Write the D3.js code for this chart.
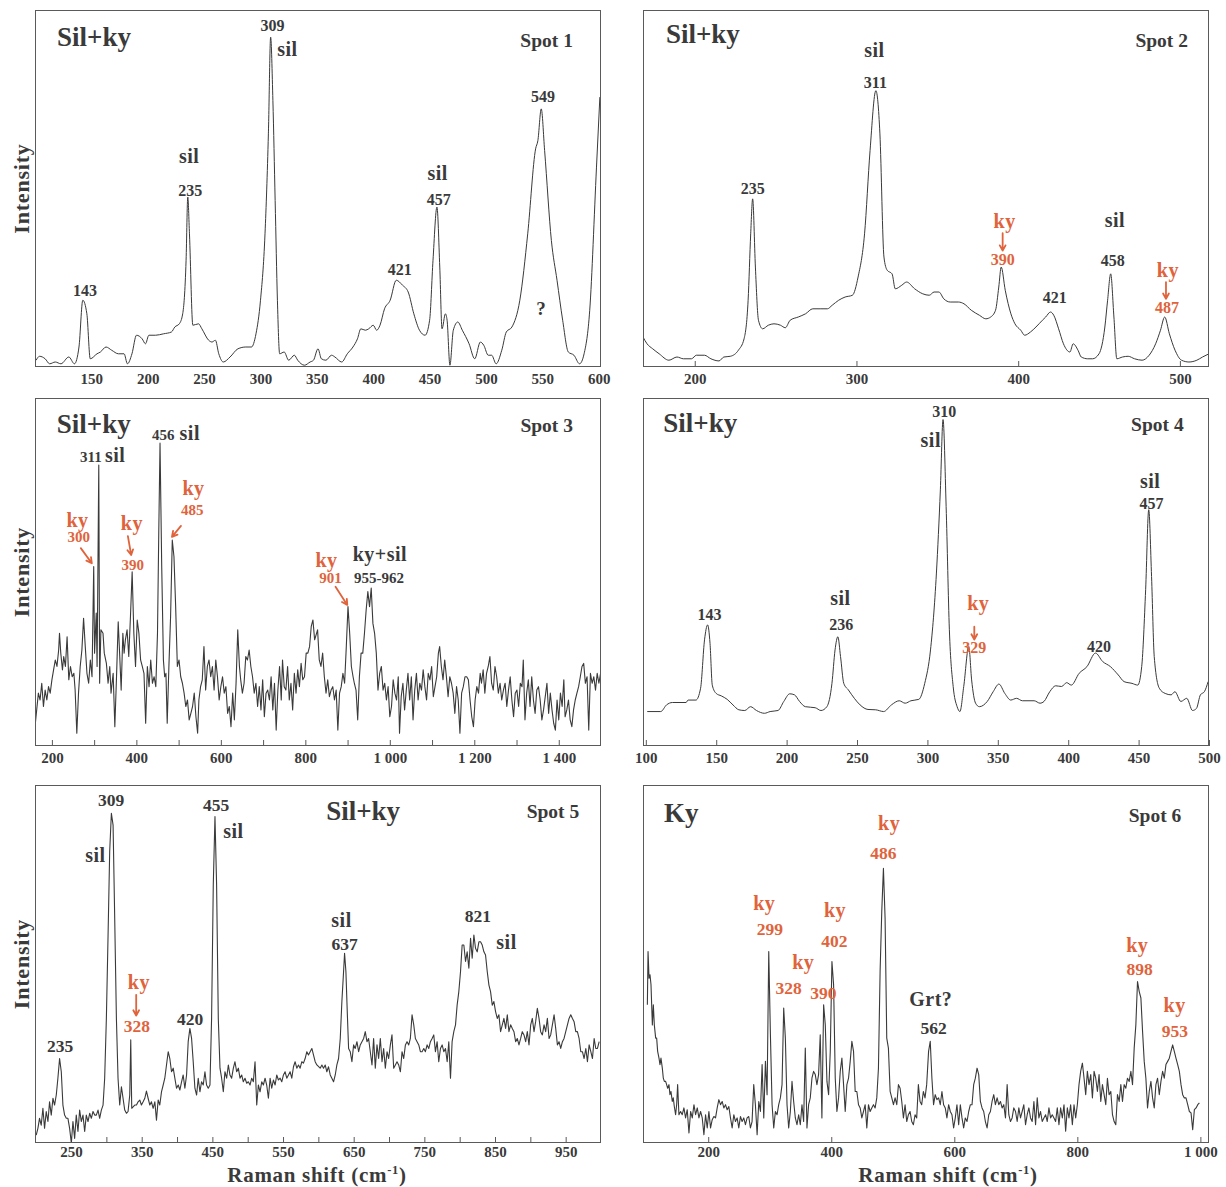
<!DOCTYPE html>
<html><head><meta charset="utf-8">
<script src="https://cdn.jsdelivr.net/npm/d3@7"></script>
<style>
body{margin:0;background:#fff;}
svg text{font-family:"Liberation Serif","Times New Roman",serif;font-weight:bold;}
</style></head><body>
<svg id="c" width="1226" height="1187"></svg>
<script>
// ---------------- DATA (Raman shift cm-1, relative intensity %) ----------------
const spot1 = [[101,1.9],[104,3.0],[109,2.3],[113,0.9],[118,1.4],[123,0.9],[130,2.8],[135,0.9],[139,5.6],[142.4,18.7],[146,14.9],[149,2.3],[155,3.7],[158,4.2],[163,5.6],[168,4.7],[174,3.7],[179,3.7],[182,0.9],[186,3.7],[190,8.9],[195,7.9],[198,6.5],[201,8.9],[207,8.9],[214,9.3],[221,9.8],[224,11.2],[228,12.1],[231,14.9],[234,29.9],[235.5,47.6],[237,37.3],[240,11.7],[245,12.1],[248,10.7],[254,7.5],[257,7.0],[260,7.5],[263,3.7],[267,1.4],[273,2.8],[280,5.1],[287,5.6],[292,5.6],[296,9.3],[300,18.7],[304,37.3],[307,65.3],[309,92.4],[311,74.6],[313,46.6],[315,18.7],[317,3.7],[321,4.2],[325,1.9],[330,3.3],[333,1.9],[339,0.5],[344,1.4],[347,1.9],[351,5.1],[354,2.3],[358,1.9],[363,3.3],[366,2.8],[372,1.4],[377,3.7],[382,5.6],[386,7.9],[389,10.7],[393,10.3],[396,10.7],[400,11.7],[403,10.3],[406,11.7],[410,16.3],[415,18.7],[420.4,24.3],[426,22.9],[431,21.0],[436,14.9],[441,10.3],[446,8.9],[450,13.1],[453,29.9],[456.5,44.8],[459,28.0],[461,10.7],[464,14.9],[465.5,13.1],[468,0.5],[471,10.3],[475,12.6],[479,10.3],[485,6.5],[490,2.3],[495,7.0],[498,6.1],[502,3.3],[505,3.3],[509,0.9],[514,4.7],[518,9.8],[523,11.2],[530,18.7],[537,37.3],[544,61.1],[546,63.4],[549,72.3],[552,60.6],[558,35.4],[563,24.3],[568,13.1],[573,4.2],[578,3.3],[583,0.9],[587,3.7],[592,15.9],[598,56.0],[601,75.6]];

const spot2 = [[168,8.4],[170.5,6.5],[174,5.1],[178,3.7],[184,1.9],[189,2.8],[193,2.3],[198,2.3],[201,3.3],[206,3.3],[210,2.3],[215,1.7],[218,2.8],[222,3.0],[227,4.7],[230.5,7.9],[233,18.7],[234.6,37.3],[235.8,47.1],[237.5,28.0],[239.4,13.1],[242,10.7],[245.5,11.7],[249,12.1],[253,11.7],[256,11.0],[259,13.1],[264,14.0],[268.5,14.9],[273,16.3],[278,16.3],[282,16.3],[285,17.3],[289,18.7],[293,19.6],[297.5,20.1],[301,25.2],[305,37.3],[308.4,60.6],[312,77.4],[314.5,65.3],[317,30.8],[319,27.1],[322,26.1],[324,21.9],[328,22.9],[331,23.8],[336,21.9],[341,20.5],[345,20.1],[348,21.0],[351,21.0],[354,19.1],[358,18.2],[363,18.2],[366.5,17.7],[371,15.9],[376,14.5],[380,13.5],[383,14.0],[386,15.9],[388,22.4],[389.5,28.0],[392,21.5],[395.5,14.9],[398,12.1],[401.6,10.3],[404,8.9],[407.6,9.8],[411,11.2],[415,13.1],[417,14.0],[420,15.4],[422,14.5],[425,10.7],[428,6.5],[432,4.2],[434,6.5],[437,4.7],[439,2.8],[443,2.3],[446,2.3],[450,3.7],[453.6,11.2],[455.3,18.7],[457.2,26.1],[459.2,14.0],[461,2.3],[464.5,2.8],[468,3.0],[472,2.3],[476.6,1.9],[481,3.3],[485,6.5],[488,10.3],[490.6,14.0],[493.5,9.3],[497,4.7],[501,1.9],[505.6,1.4],[510.5,1.9],[514,2.8],[518,3.7]];

const spot3 = [[160,3.9],[164,8.8],[168,13.7],[172,11.7],[176,16.6],[180,9.8],[184,14.6],[188,11.7],[192,15.6],[196,13.7],[200,17.6],[204,20.5],[208,23.4],[212,21.5],[216,26.3],[218,31.2],[221,25.4],[225,20.5],[228,24.4],[232,21.5],[236,30.2],[240,17.6],[244,21.5],[248,18.5],[252,19.5],[255,14.6],[259,2.0],[263,13.7],[267,21.5],[271,26.3],[275,35.6],[279,27.3],[283,19.5],[287,16.6],[291,23.4],[295,18.5],[299,50.7],[301,25.4],[305,37.1],[307,21.5],[311,80.4],[313,16.6],[316,32.2],[321,31.2],[324,25.4],[329,22.4],[333,16.6],[337,21.5],[340,13.7],[345,19.5],[349,3.9],[353,18.5],[357,34.6],[361,23.4],[364,14.6],[368,31.2],[371,25.4],[374,29.3],[378,32.2],[382,24.4],[386,36.1],[390,49.2],[394,31.2],[398,21.5],[402,35.1],[406,31.2],[410,23.4],[414,21.5],[418,19.5],[422,4.9],[426,21.5],[430,15.6],[434,23.4],[438,16.6],[442,18.5],[446,15.6],[450,31.2],[453,60.5],[456,86.8],[460,50.7],[464,23.4],[467,18.5],[470,19.5],[473,4.9],[477,21.5],[481,36.1],[485,58.5],[489,53.6],[493,39],[497,21.5],[501,23.4],[505,18.5],[509,16.6],[513,13.7],[517,9.8],[521,11.7],[525,5.9],[529,7.8],[533,9.8],[537,13.7],[541,6.8],[545,2.0],[548,11.7],[552,15.6],[556,17.6],[560,27.3],[564,14.6],[568,21.5],[572,23.4],[576,18.5],[580,21.5],[584,14.6],[588,23.4],[592,18.5],[596,11.7],[600,15.6],[604,18.5],[608,13.7],[612,15.6],[616,7.8],[620,9.8],[624,3.9],[628,13.7],[632,5.9],[636,16.6],[640,32.2],[644,21.5],[647,17.6],[651,13.7],[655,16.6],[659,24.4],[663,23.4],[667,26.3],[671,21.5],[675,18.5],[679,13.7],[683,16.6],[687,9.8],[691,15.6],[695,8.8],[699,17.6],[703,6.8],[707,13.7],[711,14.6],[715,11.7],[719,18.5],[723,8.8],[727,16.6],[731,2.9],[735,14.6],[739,21.5],[743,11.7],[746,23.4],[750,15.6],[754,14.6],[758,21.5],[762,11.7],[766,16.6],[770,8.8],[774,19.5],[778,13.7],[782,20.5],[786,15.6],[790,22.4],[794,17.6],[798,18.5],[802,25.4],[806,25.4],[810,27.3],[814,33.2],[818,35.1],[822,29.3],[829,32.2],[833,23.4],[837,21.5],[841,25.4],[845,18.5],[849,13.7],[853,17.6],[857,12.7],[861,14.6],[865,15.6],[869,11.7],[873,14.6],[877,2.9],[881,13.7],[885,15.6],[889,19.5],[893,16.6],[897,27.3],[901,39],[905,31.2],[909,21.5],[913,18.5],[916,16.6],[920,14.6],[924,5.9],[928,18.5],[932,25.4],[936,25.4],[940,31.2],[944,38],[948,43.4],[952,39],[956,44.4],[960,34.1],[964,31.2],[968,25.4],[972,14.6],[976,19.5],[980,21.5],[984,14.6],[988,16.6],[992,11.7],[996,15.6],[1000,6.8],[1004,9.8],[1008,17.6],[1012,13.7],[1016,11.7],[1020,18.5],[1023,2.0],[1027,12.7],[1031,16.6],[1035,8.8],[1039,14.6],[1043,19.5],[1047,11.7],[1051,18.5],[1055,5.9],[1059,14.6],[1063,19.5],[1067,11.7],[1071,16.6],[1075,14.6],[1079,20.5],[1083,15.6],[1087,11.7],[1091,19.5],[1095,17.6],[1099,21.5],[1103,12.7],[1107,15.6],[1111,18.5],[1115,25.4],[1118,27.3],[1122,21.5],[1126,17.6],[1130,23.4],[1134,18.5],[1138,12.7],[1142,18.5],[1146,16.6],[1150,13.7],[1154,7.8],[1158,15.6],[1162,11.7],[1166,2.0],[1170,13.7],[1174,15.6],[1178,18.5],[1182,18.5],[1186,17.6],[1190,11.7],[1194,6.8],[1198,3.9],[1202,11.7],[1206,15.6],[1210,13.7],[1214,19.5],[1217,16.6],[1221,20.5],[1225,13.7],[1229,19.5],[1233,21.5],[1237,24.4],[1241,16.6],[1245,14.6],[1249,21.5],[1253,18.5],[1257,13.7],[1261,16.6],[1265,11.7],[1269,14.6],[1273,16.6],[1277,9.8],[1281,14.6],[1285,18.5],[1289,11.7],[1293,6.8],[1297,13.7],[1301,14.6],[1305,9.8],[1309,16.6],[1313,15.6],[1316,23.4],[1320,5.9],[1324,13.7],[1328,17.6],[1332,9.8],[1336,18.5],[1340,11.7],[1344,7.8],[1348,14.6],[1352,15.6],[1356,11.7],[1360,5.9],[1364,8.8],[1368,12.7],[1372,16.6],[1376,7.8],[1380,13.7],[1384,8.8],[1388,4.9],[1392,2.9],[1396,11.7],[1400,5.9],[1404,13.7],[1408,9.8],[1412,17.6],[1415,6.8],[1419,8.8],[1423,11.7],[1427,5.9],[1431,3.9],[1435,8.8],[1439,11.7],[1443,13.7],[1447,15.6],[1451,18.5],[1455,21.5],[1459,22.4],[1463,16.6],[1467,18.5],[1471,2.9],[1475,19.5],[1479,16.6],[1483,18.5],[1487,14.6],[1491,19.5],[1495,16.6],[1499,19.5]];

const spot4 = [[101,9.9],[110.6,9.9],[114.7,11.8],[118.9,12.5],[128.6,12.5],[130,13.2],[135.6,13.2],[138.9,16.6],[141.7,30.5],[143.9,34.8],[145.6,29.5],[147.2,17.5],[150,15.1],[153.6,14.4],[157.8,13.4],[161.9,11.8],[166.1,10.4],[170.3,10.2],[174.4,11.3],[178.6,10.2],[184.2,9.4],[188.3,9.9],[193.9,10.2],[198,12.8],[202.2,15],[205.6,14.7],[209.2,12.8],[213.3,11.3],[220.3,11],[224.4,10.2],[228.6,11.3],[232.2,18],[234.4,27.6],[236.4,31.4],[238.3,25.7],[240.6,18],[243.9,16.1],[248.1,13.7],[252.2,11.8],[257.8,10.5],[263.3,10.4],[268.9,9.9],[274.4,11.8],[280,13],[284.2,12.3],[288.3,13],[293.9,13.4],[298.1,18],[302.2,27.6],[306.4,49.7],[309.2,73.6],[311.1,93.8],[313.3,68.8],[315.6,33.4],[318.3,17.1],[321.1,11.3],[323.1,9.9],[325.8,17.1],[329.4,28.6],[331.4,19],[334.2,12.3],[336.9,11.3],[342.5,12.8],[346.7,15.6],[350.8,17.8],[355,15.1],[359.2,13.2],[363.3,13.7],[367.5,13],[375.8,13],[380,12.3],[382.8,12.8],[386.9,15.6],[391.1,17.3],[395.3,17.1],[398.9,18.2],[402.2,17.5],[407.8,20.9],[413.3,22.8],[419.4,26.7],[424.4,24.3],[430,22.8],[435.6,20.4],[439.7,18.5],[445.3,18],[449.4,17.5],[452.2,22.8],[455,44.9],[457.2,67.9],[459.2,48.7],[461.1,25.7],[464.7,16.6],[468.9,15.1],[473.1,14.7],[475.8,15.6],[480,12.8],[484.2,13.7],[488.3,10.2],[491.1,10.8],[493.9,14.7],[496.7,15.6],[499.4,18.5]];

const spot5 = [[200.7,2.2],[203.1,4.1],[205.4,6.9],[207.8,5.0],[210.2,9.7],[212.5,4.1],[214.9,8.8],[217.3,6.0],[219.6,11.5],[222,7.8],[224.4,12.5],[226.7,10.6],[229.1,13.4],[231.4,18.1],[233.8,23.6],[236.2,19.9],[238.5,10.6],[240.9,7.8],[243.3,6.9],[245.6,6.9],[248,4.1],[250.4,0],[252.7,6.0],[255.1,1.3],[257.4,7.8],[259.8,3.2],[262.2,9.2],[264.5,6.0],[266.9,7.8],[269.3,3.2],[271.6,7.8],[274,6.0],[276.4,8.3],[278.7,6.9],[281.1,8.8],[283.5,7.8],[285.8,7.8],[288.2,9.2],[290.5,6.9],[292.9,9.2],[295.3,10.6],[297.6,18.1],[300,34.8],[302.4,58.1],[304.7,81.4],[307.1,92.1],[309.5,88.8],[311.8,62.8],[314.2,34.8],[316.5,18.1],[318.9,10.6],[321.3,15.7],[323.6,12.5],[326,9.2],[328.4,8.3],[330.7,8.8],[333.1,13.4],[334.5,28.8],[335.9,9.7],[337.8,10.1],[340.2,10.6],[342.6,10.6],[344.9,11.5],[347.3,12],[349.6,10.6],[352,11.5],[354.4,12.5],[356.7,14.5],[359.1,12.5],[361.5,10.6],[363.8,11.5],[366.2,9.7],[368.6,11.5],[370.9,6.4],[373.3,12],[375.6,10.6],[378,14.3],[380.4,16.2],[382.7,18.1],[385.1,21.8],[387.5,25.5],[389.8,23.6],[392.2,19.9],[394.6,20.9],[396.9,18.1],[399.3,15.3],[401.7,16.2],[404,14.8],[406.4,17.1],[408.7,19],[411.1,15.3],[413.5,19],[415.8,28.3],[418.2,32],[420.6,29.2],[422.9,22.7],[425.3,15.3],[427.7,13.4],[430,18.1],[432.4,14.3],[434.7,17.1],[437.1,16.2],[439.5,19.9],[441.8,16.2],[444.2,15.3],[446.6,16.2],[448.9,34.8],[451.3,72.1],[453.7,91.2],[456,72.1],[458.4,34.8],[460.8,20.9],[463.1,18.1],[465.5,14.3],[467.8,19.9],[470.2,18.1],[472.6,21.8],[474.9,19],[477.3,18.1],[479.7,20.9],[482,22.7],[484.4,19.9],[486.8,20.9],[489.1,18.1],[491.5,19],[493.8,17.1],[496.2,18.1],[498.6,16.7],[500.9,17.1],[503.3,16.2],[505.7,18.1],[508,17.1],[510.4,22.7],[512.8,10.6],[515.1,16.2],[517.5,14.3],[519.9,17.1],[522.2,16.2],[524.6,18.1],[526.9,16.2],[529.3,12.5],[531.7,18.1],[534,15.3],[536.4,17.6],[538.8,16.2],[541.1,19],[543.5,17.6],[545.9,18.1],[548.2,17.1],[550.6,19],[552.9,19.9],[555.3,18.1],[557.7,19],[560,19.9],[562.4,18.1],[564.8,21.3],[567.1,22.7],[569.5,20.9],[571.9,21.8],[574.2,20.9],[576.6,22.7],[578.9,22.3],[581.3,23.6],[583.7,25.5],[586,24.6],[588.4,25.5],[590.8,26.4],[593.1,24.6],[595.5,22.7],[597.9,21.8],[602.6,20.9],[605,21.8],[607.3,20.9],[609.7,21.8],[612,19.9],[614.4,21.3],[616.8,19],[619.1,18.1],[621.5,17.1],[623.9,19],[626.2,21.8],[628.6,23.6],[631,29.2],[633.3,39.5],[635.7,47.9],[637.1,53],[639,47.9],[640.9,36.7],[642.8,26.4],[645.1,25.5],[647.5,22.7],[649.9,27.4],[652.2,26.4],[654.6,28.3],[657,25.5],[659.3,27.4],[661.7,28.3],[664.1,29.2],[666.4,31.1],[668.8,28.3],[671.1,29.2],[673.5,25.5],[675.9,21.8],[678.2,29.2],[680.6,20.9],[683,27.4],[685.3,23.6],[687.7,29.2],[690.1,22.7],[692.4,26.4],[694.8,20.9],[697.2,25.5],[699.5,23.6],[701.9,27.4],[704.2,30.2],[706.6,20.9],[709,21.8],[711.3,22.7],[713.7,21.8],[716.1,19.9],[718.4,25.5],[720.8,23.6],[723.2,27.4],[725.5,28.3],[727.9,27.4],[730.2,29.2],[732.6,35.8],[735,33],[737.3,29.2],[739.7,28.3],[742.1,27.4],[744.4,25.5],[746.8,25.5],[749.2,26.4],[751.5,25.5],[753.9,27.4],[756.3,26.4],[758.6,28.3],[761,29.2],[763.3,30.2],[765.7,25.5],[768.1,28.3],[770.4,22.7],[772.8,26.4],[775.2,27.4],[777.5,25.5],[779.9,26.4],[782.3,22.7],[784.6,28.3],[787,18.1],[789.3,28.3],[791.7,31.1],[794.1,33],[796.4,38.5],[798.8,42.3],[801.2,47.9],[803.5,55.3],[805.9,55.3],[808.3,50.7],[810.6,53.4],[813,48.8],[815.4,57.2],[817.7,51.6],[820.1,58.1],[822.4,54.4],[824.8,53.4],[827.2,56.2],[829.5,56.2],[831.9,55.3],[834.3,53.4],[836.6,52.5],[839,47.9],[841.4,44.1],[843.7,42.3],[846.1,38.5],[848.4,39.5],[850.8,36.7],[853.2,34.8],[855.5,35.8],[857.9,31.1],[860.3,33],[862.6,34.8],[865,32],[867.4,35.8],[869.7,31.1],[872.1,33],[874.5,32],[876.8,31.1],[879.2,28.3],[881.5,29.2],[883.9,27.4],[886.3,29.2],[888.6,31.1],[891,30.2],[893.4,28.3],[895.7,31.1],[898.1,27.4],[900.5,33],[902.8,34.8],[905.2,31.1],[907.5,33.9],[909.9,37.6],[912.3,34.8],[914.6,31.1],[917,30.2],[919.4,33],[921.7,31.1],[924.1,34.8],[926.5,29.2],[928.8,30.2],[931.2,33],[933.6,35.8],[935.9,32],[938.3,27.4],[940.6,28.3],[943,26.4],[945.4,28.3],[947.7,29.2],[950.1,31.1],[952.5,33],[954.8,34.8],[957.2,35.8],[959.6,34.8],[961.9,33.9],[964.3,31.1],[966.6,31.1],[969,29.2],[971.4,25.5],[973.7,25.5],[976.1,23.6],[978.5,26.4],[980.8,22.7],[983.2,27.4],[985.6,25.5],[987.9,23.6],[990.3,29.2],[992.6,26.4],[995,26.4],[997.4,28.3]];

const spot6 = [[101.1,38.6],[102.2,53.5],[103.8,46],[105.4,47],[107,44.2],[109.2,33],[110.8,38.6],[112.4,33],[114.6,29.3],[116.2,29.3],[117.8,25.6],[120,23.7],[121.6,21.9],[123.2,23.7],[125.4,20.9],[127,18.1],[128.7,17.2],[130.8,17.2],[132.4,16.3],[134.1,15.3],[136.2,16.3],[137.8,13.5],[139.5,14.4],[141.6,11.6],[143.2,12.6],[144.9,10.2],[147,7.9],[148.7,10.7],[150.3,16.3],[152.4,7.9],[155.1,8.8],[157.8,7.9],[160.5,9.8],[163.2,7],[165.9,9.3],[168.7,2.8],[171.4,8.8],[174.1,7],[176.8,10.7],[179.5,7.9],[182.2,9.8],[184.9,7],[187.6,8.8],[190.3,7],[193,2.3],[195.7,7.9],[198.4,4.2],[201.1,8.8],[203.8,4.2],[206.5,6.5],[209.2,7.4],[211.9,7],[214.6,9.8],[217.3,12.1],[220,10.7],[222.7,11.6],[225.4,9.8],[228.1,10.7],[230.8,9.3],[233.5,10.2],[236.2,7],[238.9,4.2],[241.6,7.9],[244.3,6],[247,7],[249.7,4.2],[252.4,7.4],[255.1,6],[257.8,7],[260.5,5.1],[263.2,7],[265.9,7.4],[268.6,4.2],[271.3,6],[274,16.3],[276.7,10.7],[279.5,2.3],[282.2,11.6],[284.9,8.8],[287.6,21.9],[290.3,7],[293,22.8],[295.7,13.5],[298.4,53.5],[301.1,30.2],[303.8,10.7],[306.5,4.2],[309.2,8.8],[311.9,7.9],[314.6,10.7],[317.3,12.6],[320,16.3],[322.7,37.7],[325.4,29.3],[328.1,10.7],[330.8,4.2],[333.5,8.8],[336.2,17.2],[338.9,11.6],[341.6,7],[344.3,5.1],[347,7.9],[349.7,5.1],[352.4,10.7],[355.1,6],[357.8,26.5],[360.5,4.2],[363.2,10.7],[365.9,12.6],[368.6,18.1],[371.3,20],[374,19.1],[376.7,16.3],[379.4,19.1],[382.1,30.2],[384.8,7],[387.6,38.6],[390.3,33],[393,17.2],[395.7,13.5],[398.4,25.6],[401.1,50.7],[403.8,44.2],[406.5,18.1],[409.2,8.8],[411.9,12.6],[414.6,20],[417.3,23.7],[420,16.3],[422.7,8.8],[425.4,16.3],[428.1,18.1],[430.8,22.8],[433.5,28.4],[436.2,25.6],[438.9,14.4],[441.6,14.4],[444.3,10.7],[447,9.8],[449.7,7],[452.4,8.8],[455.1,10.7],[457.8,4.2],[460.5,10.7],[463.2,8.8],[465.9,9.8],[468.6,10.7],[471.3,9.8],[474,12.6],[476.7,20.9],[479.4,47.9],[482.1,64.7],[484.8,76.7],[487.5,62.8],[490.2,29.3],[492.9,26.5],[495.7,14.4],[498.4,12.6],[501.1,10.7],[503.8,12.6],[506.5,10.7],[509.2,16.3],[511.9,15.3],[514.6,11.6],[517.3,7],[520,10.7],[522.7,6],[525.4,7.9],[528.1,8.8],[530.8,6],[533.5,5.1],[536.2,7.9],[538.9,7],[541.6,16.3],[544.3,11.6],[547,10.7],[549.7,14.4],[552.4,12.6],[555.1,16.3],[558.2,25.6],[560.9,28.4],[563.6,18.1],[566.3,10.7],[569,13.5],[571.7,12.1],[574.5,12.6],[577.2,10.7],[579.9,14.4],[582.6,10.7],[585.3,9.8],[588,7],[590.8,10.7],[593.5,8.8],[596.2,7.9],[598.9,4.2],[601.6,7],[604.3,10.7],[607.1,5.1],[609.8,10.7],[612.5,7],[615.2,4.2],[617.9,7],[620.7,6],[623.4,8.8],[626.1,10.7],[628.8,10.7],[631.5,16.3],[634.2,18.1],[637,20.9],[639.7,19.1],[642.4,11.6],[645.1,9.8],[647.8,8.8],[650.5,6],[653.3,4.2],[656,7.9],[658.7,8.8],[661.4,11.6],[664.1,13.5],[666.8,10.7],[669.6,12.6],[672.3,10.7],[675,11.6],[677.7,9.8],[680.4,10.7],[683.2,7],[685.9,16.3],[688.6,7.9],[691.3,6],[694,7],[696.7,9.8],[699.5,8.8],[702.2,6],[704.9,9.8],[707.6,7],[710.3,8.8],[713,10.7],[715.8,5.1],[718.5,7.9],[721.2,9.8],[723.9,7],[726.6,6],[729.4,11.6],[732.1,5.1],[734.8,12.6],[737.5,7],[740.2,8.8],[742.9,6],[745.7,7],[748.4,7.9],[751.1,6],[753.8,9.8],[756.5,7],[759.2,7.9],[762,7],[764.7,6],[767.4,9.8],[770.1,5.1],[772.8,9.8],[775.6,7],[778.3,10.7],[781,3.3],[783.7,9.8],[786.4,7],[789.1,10.7],[791.9,5.1],[794.6,10.7],[797.3,7],[800,10.7],[802.7,16.3],[805.4,20],[808.2,22.3],[810.9,18.1],[813.6,13.5],[816.3,20],[819,16.3],[821.8,19.1],[824.5,12.6],[827.2,20],[829.9,18.1],[832.6,14.4],[835.3,19.1],[838.1,11.6],[840.8,16.3],[843.5,13.5],[846.2,10.7],[848.9,18.1],[851.6,13.5],[854.4,14.4],[857.1,7.9],[859.8,6],[862.5,5.1],[865.2,13.5],[868,11.6],[870.7,16.3],[873.4,11.6],[876.1,16.3],[878.8,15.3],[881.5,18.1],[884.3,17.2],[887,20],[889.7,16.3],[892.4,26.5],[895.1,33],[897.8,45.1],[900.6,42.3],[903.3,40.5],[906,31.2],[908.7,22.8],[911.4,18.1],[914.1,9.8],[916.9,14.4],[919.6,17.2],[922.3,12.6],[925,9.8],[927.7,16.3],[930.4,18.1],[933.2,13.5],[935.9,17.2],[938.6,20],[941.3,18.1],[944,21.9],[946.8,22.8],[949.5,23.7],[952.2,25.6],[954.9,27.4],[957.6,25.6],[960.3,23.7],[963.1,21.9],[965.8,20],[968.5,16.3],[971.2,13.5],[973.9,12.6],[976.6,12.6],[979.4,10.7],[982.1,8.8],[984.8,8.4],[987.5,3.7],[990.2,9.3],[993,9.8],[995.7,10.7],[998.4,11.2]];

// tick values and labels
const ticks1 = [150,200,250,300,350,400,450,500,550,600];
const tickText1 = ["150","200","250","300","350","400","450","500","550","600"];
const ticks2 = [200,300,400,500];
const tickText2 = ["200","300","400","500"];
const ticks3 = [200,300,400,500,600,700,800,900,1000,1100,1200,1300,1400];
const tickText3 = ["200","","400","","600","","800","","1 000","","1 200","","1 400"];
const ticks4 = [100,150,200,250,300,350,400,450,500];
const tickText4 = ["100","150","200","250","300","350","400","450","500"];
const ticks5 = [250,300,350,400,450,500,550,600,650,700,750,800,850,900,950];
const tickText5 = ["250","","350","","450","","550","","650","","750","","850","","950"];
const ticks6 = [200,400,600,800,1000];
const tickText6 = ["200","400","600","800","1 000"];

// annotations: [text, shift, intensity, kind]
const notes1 = [["Sil+ky",119.5,89.9,"title"],["Spot 1",577.1,89.6,"spot"],["309",310.6,94.1,"num"],["sil",323.9,87.1,"min"],["sil",236.8,57.1,"min"],["235",237.7,47.9,"num"],["143",144.4,19.9,"num"],["421",423.4,25.8,"num"],["sil",457.2,52.4,"min"],["457",458.1,45.4,"num"],["549",550.5,74.2,"num"],["?",548.7,14.6,"q"]];
const notes2 = [["Sil+ky",182.2,90.8,"title"],["Spot 2",505,89.6,"spot"],["sil",311.1,86.8,"min"],["311",311.7,78.2,"num"],["235",235.8,48.5,"num"],["ky",391.6,38.9,"ky"],["390",390.4,28.6,"kyn"],["421",422.6,17.9,"num"],["sil",459.8,39.2,"min"],["458",458.5,28.3,"num"],["ky",492.6,25.2,"ky"],["487",492,15.1,"kyn"]];
const notes3 = [["Sil+ky",211.5,89.8,"title"],["Spot 3",1433.6,90.1,"spot"],["311",292.3,81.4,"num"],["sil",349.7,81.4,"min"],["456",463.6,87.7,"num"],["sil",526.4,87.7,"min"],["ky",260.8,62.4,"ky"],["300",263.6,58,"kyn"],["ky",389.3,61.4,"ky"],["390",391.7,49.7,"kyn"],["ky",535.4,71.6,"ky"],["485",532.4,65.8,"kyn"],["ky",850.2,50.7,"ky"],["901",859.6,45.8,"kyn"],["ky+sil",976.6,52.4,"min"],["955-962",974.2,45.8,"num"]];
const notes4 = [["Sil+ky",112.4,90.1,"title"],["Spot 4",482,90.6,"spot"],["310",312,94.4,"num"],["sil",302.4,85.8,"min"],["143",145.2,36.1,"num"],["sil",238.2,40.4,"min"],["236",238.8,33.3,"num"],["ky",336.1,39,"ky"],["329",333.3,26.8,"kyn"],["420",421.9,27.1,"num"],["sil",458.2,74.1,"min"],["457",459.1,68.2,"num"]];
const notes5 = [["Sil+ky",611.1,90.2,"title"],["Spot 5",969.2,90.7,"spot"],["309",306.7,94.2,"num"],["sil",284.5,78.5,"min"],["455",455.2,92.7,"num"],["sil",479.7,85.2,"min"],["ky",346,42.9,"ky"],["328",343.2,30.9,"kyn"],["420",418.7,33,"num"],["235",234.4,25.5,"num"],["sil",632.8,60.3,"min"],["637",637.1,53.8,"num"],["821",825.6,61.7,"num"],["sil",866.3,54.3,"min"]];
const notes6 = [["Ky",128.2,89.7,"title"],["Spot 6",968.9,89.7,"spot"],["ky",494.1,87.4,"ky"],["486",484.8,79.3,"kyn"],["ky",291,65,"ky"],["299",300.3,58.2,"kyn"],["ky",406.2,63.1,"ky"],["402",405,54.7,"kyn"],["ky",354.5,48.5,"ky"],["328",330.6,41.7,"kyn"],["390",387.1,40.3,"kyn"],["Grt?",561.8,38.4,"min"],["562",566.5,30.4,"num"],["ky",897.3,53.3,"ky"],["898",901.2,47,"kyn"],["ky",958.1,36.5,"ky"],["953",958.6,29.5,"kyn"]];

// arrows: [fromShift, fromInt, toShift, toInt]
const arrows2 = [[390.4,37.5,390.4,32.6],[491.4,23.8,491.4,19.1]];
const arrows3 = [[268.4,56.1,294.5,51.7],[379.9,59.6,387.7,54.1],[505.6,62.6,484.2,59.4],[871.5,44.8,899.3,39.5]];
const arrows4 = [[333.3,34.3,333.3,30.6]];
const arrows5 = [[342.2,41.4,342.2,35.6]];

// ---------------- LAYOUT ----------------
const L = {l:35, r:601}, R = {l:643, r:1209};
const rows = [{t:10,b:367},{t:398,b:746},{t:785,b:1143}];
const panels = [
 {data:spot1, col:L, row:rows[0], xd:[100,602], yd:[0,100], ticks:ticks1, tt:tickText1, tl:0, notes:notes1, arrows:[], smooth:true, ylab:true, num:16, pad:6},
 {data:spot2, col:R, row:rows[0], xd:[168,518], yd:[0,100], ticks:ticks2, tt:tickText2, tl:6, notes:notes2, arrows:arrows2, smooth:true, num:16, pad:6},
 {data:spot3, col:L, row:rows[1], xd:[160,1500], yd:[-1.75,100], ticks:ticks3, tt:tickText3, tl:6, notes:notes3, arrows:arrows3, smooth:false, ylab:true, num:15, pad:6},
 {data:spot4, col:R, row:rows[1], xd:[98,500], yd:[0,100], ticks:ticks4, tt:tickText4, tl:6, notes:notes4, arrows:arrows4, smooth:true, num:16, pad:6},
 {data:spot5, col:L, row:rows[2], xd:[199,1000], yd:[0,100], ticks:ticks5, tt:tickText5, tl:6, notes:notes5, arrows:arrows5, smooth:false, ylab:true, xlab:317, num:17.5, pad:3},
 {data:spot6, col:R, row:rows[2], xd:[94,1014], yd:[0,100], ticks:ticks6, tt:tickText6, tl:6, notes:notes6, arrows:[], smooth:false, xlab:948, num:17.5, pad:3}
];

const INK = "#3a3a3a", RED = "#e0633b", FRAME = "#5a5a5a";
const FONT = '"Liberation Serif","Times New Roman",serif';
const svg = d3.select("#c");
const defs = svg.append("defs");

panels.forEach((p, i) => {
  const x = d3.scaleLinear().domain(p.xd).range([p.col.l, p.col.r]);
  const y = d3.scaleLinear().domain(p.yd).range([p.row.b, p.row.t]);
  const g = svg.append("g");
  defs.append("clipPath").attr("id","cl"+i).append("rect")
    .attr("x",p.col.l).attr("y",p.row.t).attr("width",p.col.r-p.col.l).attr("height",p.row.b-p.row.t);

  // axis
  const fmt = d => p.tt[p.ticks.indexOf(d)];
  const ax = d3.axisBottom(x).tickValues(p.ticks).tickFormat(fmt)
    .tickSizeInner(-p.tl).tickSizeOuter(0).tickPadding(p.pad);
  const ag = g.append("g").attr("transform",`translate(0,${p.row.b})`).call(ax);
  ag.select(".domain").remove();
  ag.selectAll(".tick line").attr("stroke",FRAME).attr("stroke-width",1);
  ag.selectAll(".tick text").attr("font-size",15).attr("font-family",FONT)
    .attr("font-weight","bold").attr("fill",INK);
  ag.attr("font-family",FONT);

  // spectrum
  const line = d3.line().x(d=>x(d[0])).y(d=>y(d[1]))
    .curve(p.smooth ? d3.curveMonotoneX : d3.curveLinear);
  g.append("path").datum(p.data).attr("clip-path",`url(#cl${i})`)
    .attr("d",line).attr("fill","none").attr("stroke",INK)
    .attr("stroke-width",p.smooth ? 1 : 1.1).attr("stroke-linejoin","round");

  // frame
  g.append("rect").attr("x",p.col.l+0.5).attr("y",p.row.t+0.5)
    .attr("width",p.col.r-p.col.l-1).attr("height",p.row.b-p.row.t-1)
    .attr("fill","none").attr("stroke",FRAME).attr("stroke-width",1);

  // annotations
  const styles = {
    title:{size:27, fill:INK, anchor:"start"},
    spot:{size:19.5, fill:INK, anchor:"end"},
    num:{size:p.num, fill:INK, anchor:"middle"},
    min:{size:20, fill:INK, anchor:"middle", ls:0.5},
    ky:{size:20, fill:RED, anchor:"middle", ls:0.5},
    kyn:{size:p.num, fill:RED, anchor:"middle"},
    q:{size:19, fill:INK, anchor:"middle"}
  };
  p.notes.forEach(n => {
    const s = styles[n[3]];
    g.append("text").attr("x",x(n[1])).attr("y",y(n[2]))
      .attr("text-anchor",s.anchor).attr("font-size",s.size)
      .attr("letter-spacing",s.ls||0).attr("fill",s.fill).text(n[0]);
  });

  // arrows
  p.arrows.forEach(a => {
    const x1=x(a[0]), y1=y(a[1]), x2=x(a[2]), y2=y(a[3]);
    const ang = Math.atan2(y2-y1, x2-x1), h = 6, w = 0.5;
    const p1 = [x2 - h*Math.cos(ang-w), y2 - h*Math.sin(ang-w)];
    const p2 = [x2 - h*Math.cos(ang+w), y2 - h*Math.sin(ang+w)];
    g.append("path").attr("d",`M${x1},${y1}L${x2},${y2}M${p1[0]},${p1[1]}L${x2},${y2}L${p2[0]},${p2[1]}`)
      .attr("fill","none").attr("stroke",RED).attr("stroke-width",1.8)
      .attr("stroke-linecap","round").attr("stroke-linejoin","round");
  });

  // axis titles
  if (p.ylab) {
    const cy = (p.row.t + p.row.b)/2;
    svg.append("text").attr("transform",`translate(29,${cy}) rotate(-90)`)
      .attr("text-anchor","middle").attr("font-size",22).attr("letter-spacing",0.8)
      .attr("fill",INK).text("Intensity");
  }
  if (p.xlab) {
    const t = svg.append("text").attr("x",p.xlab).attr("y",1182)
      .attr("text-anchor","middle").attr("font-size",21).attr("letter-spacing",0.7).attr("fill",INK);
    t.append("tspan").text("Raman shift (cm");
    t.append("tspan").attr("dy",-8).attr("font-size",12.5).text("-1");
    t.append("tspan").attr("dy",8).text(")");
  }
});
</script>
</body></html>
